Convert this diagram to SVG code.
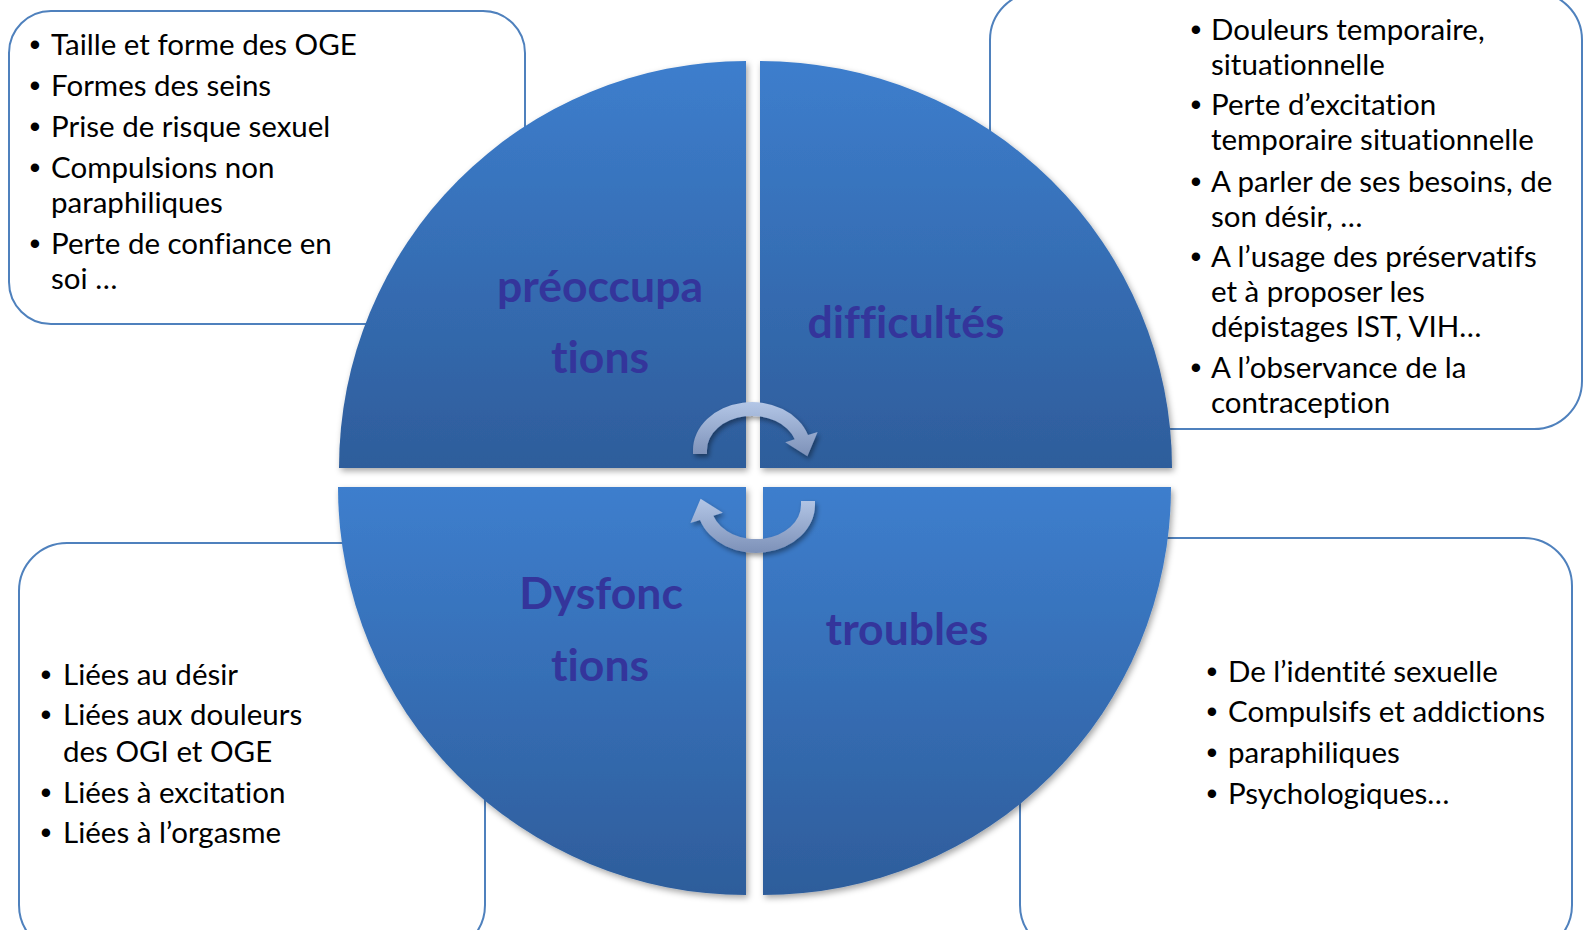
<svg xmlns="http://www.w3.org/2000/svg" width="1585" height="930" viewBox="0 0 1585 930">
<style>
text{font-variant-ligatures:none;font-feature-settings:"liga" 0,"clig" 0}
.box{fill:#fff;stroke:#4F81BD;stroke-width:2}
.q{fill:url(#qg);filter:url(#sh)}
.lbl{font-family:Lato,"Liberation Sans",sans-serif;font-weight:bold;font-size:44.5px;fill:#34359B;text-anchor:middle}
.t{font-family:Lato,"Liberation Sans",sans-serif;font-size:29.5px;fill:#000}
.b{font-family:"Liberation Sans",sans-serif;font-size:31px;fill:#000;text-anchor:middle}
.arr{fill:url(#ag);filter:url(#sh2)}
</style>
<defs>
<linearGradient id="qg" x1="0" y1="0" x2="0" y2="1">
<stop offset="0" stop-color="#3D7ECD"/>
<stop offset="1" stop-color="#2E5D9B"/>
</linearGradient>
<linearGradient id="ag" x1="0" y1="0" x2="0" y2="1">
<stop offset="0" stop-color="#B3C6E6"/>
<stop offset="1" stop-color="#7D91B8"/>
</linearGradient>
<filter id="sh" x="-5%" y="-5%" width="115%" height="115%">
<feDropShadow dx="2" dy="3" stdDeviation="3" flood-color="#000" flood-opacity="0.35"/>
</filter>
<filter id="sh2" x="-20%" y="-20%" width="150%" height="150%">
<feDropShadow dx="2" dy="3" stdDeviation="2.5" flood-color="#000" flood-opacity="0.4"/>
</filter>
</defs>
<rect width="1585" height="930" fill="#fff"/>

<g id="box-preoccupations">
<rect class="box" x="9" y="11" width="516" height="313" rx="42"/>
<text class="b" x="35" y="55">•</text><text class="t" x="51" y="55">Taille et forme des OGE</text>
<text class="b" x="35" y="96">•</text><text class="t" x="51" y="96">Formes des seins</text>
<text class="b" x="35" y="137">•</text><text class="t" x="51" y="137">Prise de risque sexuel</text>
<text class="b" x="35" y="178">•</text><text class="t" x="51" y="178">Compulsions non</text>
<text class="t" x="51" y="213">paraphiliques</text>
<text class="b" x="35" y="254">•</text><text class="t" x="51" y="254">Perte de confiance en</text>
<text class="t" x="51" y="289">soi …</text>
</g>

<g id="box-difficultes">
<rect class="box" x="990" y="-8" width="592" height="437" rx="48"/>
<text class="b" x="1196" y="40">•</text><text class="t" x="1211" y="40">Douleurs temporaire,</text>
<text class="t" x="1211" y="75">situationnelle</text>
<text class="b" x="1196" y="115">•</text><text class="t" x="1211" y="115">Perte d’excitation</text>
<text class="t" x="1211" y="150">temporaire situationnelle</text>
<text class="b" x="1196" y="192">•</text><text class="t" x="1211" y="192">A parler de ses besoins, de</text>
<text class="t" x="1211" y="227">son désir, …</text>
<text class="b" x="1196" y="267">•</text><text class="t" x="1211" y="267">A l’usage des préservatifs</text>
<text class="t" x="1211" y="302">et à proposer les</text>
<text class="t" x="1211" y="337">dépistages IST, VIH…</text>
<text class="b" x="1196" y="378">•</text><text class="t" x="1211" y="378">A l’observance de la</text>
<text class="t" x="1211" y="413">contraception</text>
</g>

<g id="box-dysfonctions">
<rect class="box" x="19" y="543" width="466" height="410" rx="48"/>
<text class="b" x="46" y="685">•</text><text class="t" x="63" y="685">Liées au désir</text>
<text class="b" x="46" y="725">•</text><text class="t" x="63" y="725">Liées aux douleurs</text>
<text class="t" x="63" y="762">des OGI et OGE</text>
<text class="b" x="46" y="803">•</text><text class="t" x="63" y="803">Liées à excitation</text>
<text class="b" x="46" y="843">•</text><text class="t" x="63" y="843">Liées à l’orgasme</text>
</g>

<g id="box-troubles">
<rect class="box" x="1020" y="538" width="552" height="415" rx="48"/>
<text class="b" x="1212" y="682">•</text><text class="t" x="1228" y="682">De l’identité sexuelle</text>
<text class="b" x="1212" y="722">•</text><text class="t" x="1228" y="722">Compulsifs et addictions</text>
<text class="b" x="1212" y="763">•</text><text class="t" x="1228" y="763">paraphiliques</text>
<text class="b" x="1212" y="804">•</text><text class="t" x="1228" y="804">Psychologiques…</text>
</g>

<g id="node-preoccupations">
<path class="q" d="M746,468 L339,468 A407,407 0 0 1 746,61 Z"/>
<text class="lbl" x="600" y="302">préoccupa</text>
<text class="lbl" x="600" y="373">tions</text>
</g>
<g id="node-difficultes">
<path class="q" d="M760,468 L760,61 A412,407 0 0 1 1172,468 Z"/>
<text class="lbl" x="906" y="338">difficultés</text>
</g>
<g id="node-dysfonctions">
<path class="q" d="M746,487 L746,895 A408,408 0 0 1 338,487 Z"/>
<text class="lbl" x="601" y="609">Dysfonc</text>
<text class="lbl" x="600" y="681">tions</text>
</g>
<g id="node-troubles">
<path class="q" d="M763,487 L1171,487 A408,408 0 0 1 763,895 Z"/>
<text class="lbl" x="907" y="645">troubles</text>
</g>

<g id="connectors">
<path class="arr" d="M693,454 L693,450 A59,48 0 0 1 808,435 L817.6,432 L807.4,456.2 L785.2,442.2 L794.7,439.2 A45,34 0 0 0 707,450 L707,454 Z"/>
<path class="arr" d="M815,501 L815,505 A59,48 0 0 1 700,520 L690.4,523 L700.6,498.8 L722.8,512.8 L713.3,515.8 A45,34 0 0 0 801,505 L801,501 Z"/>
</g>
</svg>
